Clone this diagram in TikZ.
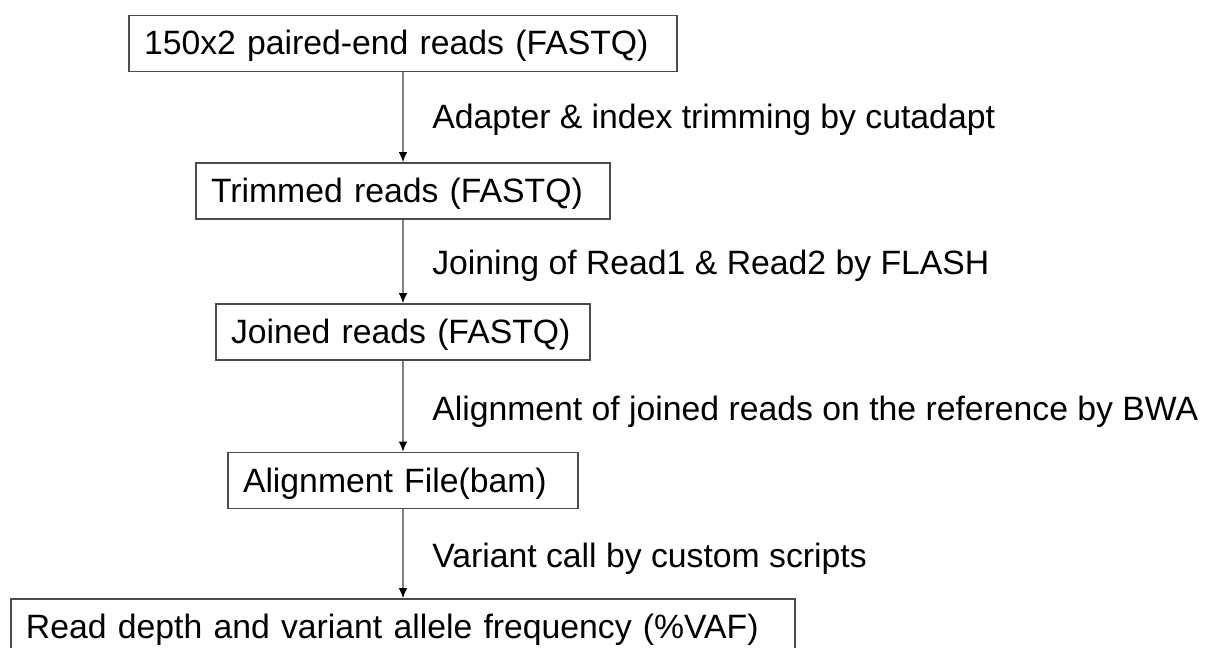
\documentclass[tikz,border=0pt]{standalone}
\usepackage{fontspec}
\setmainfont{Liberation Sans}
\usetikzlibrary{arrows.meta}
\tikzset{
	stage/.style={
			draw=black!70, line width=1pt,
			text width=#1, align=left,
			text height=0.6cm, text depth=0.14cm,
			inner xsep=0.3cm, inner ysep=0pt,
			minimum height=1.12cm
		},
	step label/.style={anchor=base west, inner sep=0pt},
	flow/.style={
			draw=black!50, line width=0.6pt,
			-{Latex[length=0.2cm,width=0.17cm,color=black]}
		}
}

\begin{document}
\begin{tikzpicture}[font=\fontsize{19.2}{23}\selectfont]

	\useasboundingbox (0,0) rectangle (24.24,-12.96);

	\node[stage=10.36cm] (raw) at (8.06,-0.87) {150x2 paired-end reads (FASTQ)};
	\node[stage=7.68cm] (trimmed) at (8.06,-3.82) {Trimmed reads (FASTQ)};
	\node[stage=6.88cm] (joined) at (8.06,-6.64) {Joined reads (FASTQ)};
	\node[stage=6.4cm] (bam) at (8.06,-9.61) {Alignment File(bam)};
	\node[stage=15.08cm] (vaf) at (8.06,-12.54) {Read depth and variant allele frequency (\%VAF)};

	\node[step label] (cutadapt) at (8.64,-2.56) {Adapter \& index trimming by cutadapt};
	\node[step label] (flash) at (8.64,-5.48) {Joining of Read1 \& Read2 by FLASH};
	\node[step label] (bwa) at (8.64,-8.40) {Alignment of joined reads on the reference by BWA};
	\node[step label] (calling) at (8.64,-11.34) {Variant call by custom scripts};

	\draw[flow] (raw) -- (trimmed);
	\draw[flow] (trimmed) -- (joined);
	\draw[flow] (joined) -- (bam);
	\draw[flow] (bam) -- (vaf);
\end{tikzpicture}
\end{document}
